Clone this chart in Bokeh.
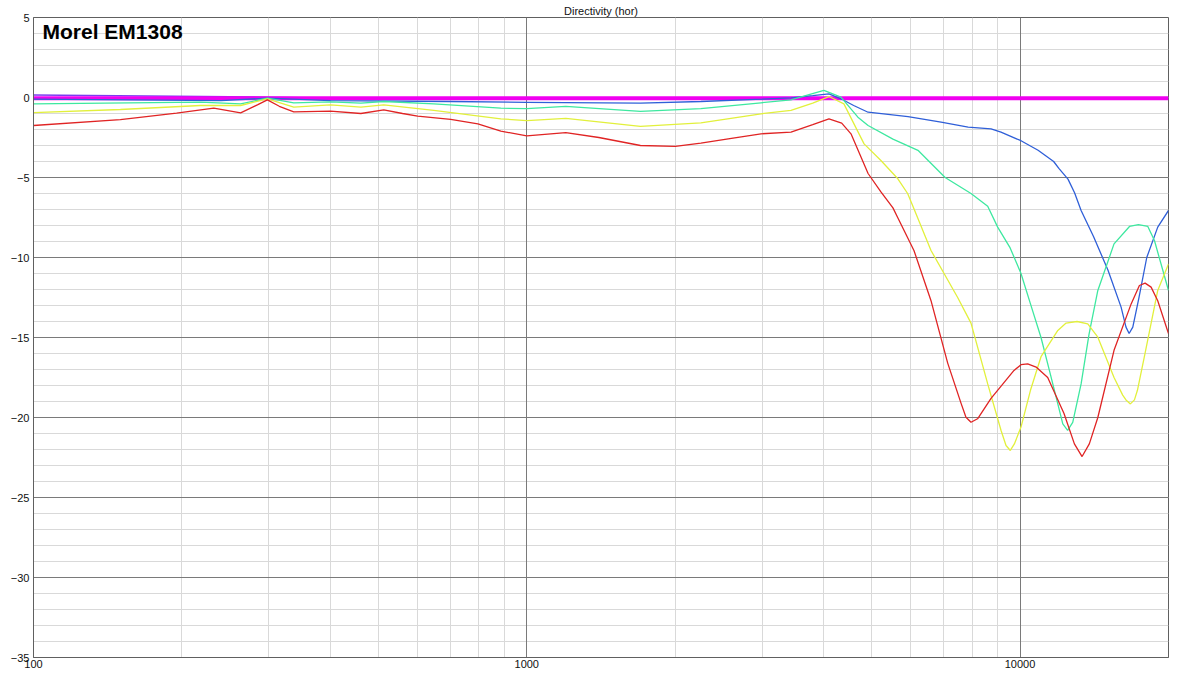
from bokeh.plotting import figure
from bokeh.models import FixedTicker, Label, BasicTickFormatter, Grid
from bokeh.embed import file_html
from bokeh.resources import INLINE

# ---------------- data ----------------
ref_f = [100, 20000]
ref_db = [-0.05, -0.05]

violet_f = [100, 250, 400, 1000, 4000, 20000]
violet_db = [0.15, 0.05, -0.05, -0.05, -0.05, -0.05]

blue_f = [100, 240, 298, 400, 700, 1000, 1700, 2254, 3000, 3433, 3800, 4099, 4335, 4600, 4920,
          5400, 5928, 6917, 7850, 8735, 9150, 10046, 10880, 11700, 12000, 12510, 12900, 13300, 14100,
          15080, 16030, 16400, 16640, 16930, 17400, 18070, 19020, 20000]
blue_db = [-0.1, -0.2, -0.04, -0.2, -0.25, -0.3, -0.35, -0.25, -0.1, -0.02, 0.12, 0.23, -0.08, -0.5, -0.92,
           -1.05, -1.19, -1.54, -1.85, -1.96, -2.17, -2.7, -3.3, -4.0, -4.45, -5.1, -5.95, -7.06, -8.7,
           -10.8, -13.1, -14.35, -14.75, -14.35, -12.6, -10.0, -8.1, -7.06]

green_f = [100, 218, 263, 298, 337, 400, 461, 513, 648, 886, 1000, 1200, 1700, 2254, 2984, 3433,
           3750, 4003, 4335, 4692, 4920, 5526, 6210, 7050, 7955, 8600, 9010, 9550, 10046, 10500,
           11030, 11500, 11930, 12210, 12490, 12790, 13300, 13800, 14380, 15510, 16670, 17380,
           18160, 18730, 20000]
green_db = [-0.4, -0.29, -0.4, -0.04, -0.33, -0.27, -0.35, -0.25, -0.4, -0.67, -0.7, -0.56, -0.87, -0.7, -0.33, -0.15,
            0.2, 0.44, 0.02, -1.23, -1.75, -2.6, -3.3, -5.0, -6.0, -6.8, -8.1, -9.4, -11.0, -12.9,
            -15.0, -17.2, -19.15, -20.4, -20.8, -20.3, -17.9, -14.8, -12.06, -9.15, -8.06, -7.94,
            -8.06, -8.94, -12.06]

yellow_f = [100, 150, 218, 263, 298, 337, 400, 461, 513, 648, 886, 1000, 1200, 1700, 2254, 2984,
            3433, 3800, 4099, 4395, 4829, 5224, 5654, 5918, 6095, 6600, 7475, 7955, 8600, 9150,
            9368, 9557, 9740, 10046, 10500, 11030, 11930, 12400, 13050, 13720, 14380, 15510,
            16150, 16400, 16740, 17060, 17300, 17870, 19020, 20000]
yellow_db = [-0.95, -0.75, -0.5, -0.5, -0.08, -0.6, -0.46, -0.6, -0.46, -0.81, -1.33, -1.45, -1.3, -1.8, -1.58, -1.02,
             -0.81, -0.35, 0.06, -0.4, -2.9, -3.94, -5.08, -6.0, -6.96, -9.56, -12.5, -14.1, -17.9, -20.8,
             -21.75, -22.06, -21.65, -20.6, -18.3, -16.2, -14.56, -14.1, -14.0, -14.15, -14.98, -17.5,
             -18.6, -18.9, -19.15, -18.9, -18.3, -16.2, -12.06, -10.4]

red_f = [100, 150, 195, 232, 263, 285, 298, 315, 337, 400, 461, 513, 560, 601, 701, 796, 886,
         1000, 1200, 1400, 1700, 2000, 2254, 2600, 2984, 3433, 3800, 4099, 4350, 4543, 4920,
         5224, 5526, 5649, 6095, 6600, 7135, 7592, 7770, 7955, 8203, 8735, 9723, 10046, 10365,
         10780, 11380, 12280, 12890, 13360, 13820, 14380, 15510, 16800, 17460, 17930, 18440,
         19020, 20000]
red_db = [-1.75, -1.38, -0.98, -0.67, -0.96, -0.45, -0.15, -0.55, -0.9, -0.85, -1.0, -0.77, -1.0, -1.17, -1.37, -1.65, -2.1,
          -2.4, -2.2, -2.5, -3.0, -3.05, -2.85, -2.55, -2.27, -2.17, -1.7, -1.33, -1.6, -2.27, -4.75,
          -5.9, -6.9, -7.5, -9.56, -12.7, -16.6, -19.1, -19.98, -20.3, -20.08, -18.8, -17.06, -16.7, -16.65,
          -16.85, -17.5, -19.75, -21.65, -22.44, -21.65, -20.0, -15.8, -12.9, -11.75, -11.6, -11.85,
          -12.7, -14.75]

x_major = [100, 1000, 10000]
x_minor = [m * 10 ** e for e in (2, 3, 4) for m in range(2, 10) if m * 10 ** e <= 20000]
y_major = list(range(-35, 6, 5))
y_minor = list(range(-35, 6))

# ---------------- figure ----------------
p = figure(frame_width=1135, frame_height=640, x_axis_type="log", x_range=(100, 20000), y_range=(-35, 5),
           output_backend="svg", toolbar_location=None,
           min_border_left=33, min_border_right=16, min_border_top=17, min_border_bottom=14,
           background_fill_color="white", border_fill_color="white")
p.outline_line_color = "#606060"
p.outline_line_width = 1

p.title.text = "Directivity (hor)"
p.title.align = "center"
p.title.text_font = "Liberation Sans"
p.title.text_font_size = "11px"
p.title.text_font_style = "normal"
p.title.text_color = "#111111"
p.title.standoff = 1
p.title.offset = 0

p.xaxis.ticker = FixedTicker(ticks=x_major)
p.xaxis.formatter = BasicTickFormatter(use_scientific=False)
p.yaxis.ticker = FixedTicker(ticks=y_major)
for ax in (p.xaxis, p.yaxis):
    ax.axis_line_color = "#606060"
    ax.major_tick_line_color = None
    ax.minor_tick_line_color = None
    ax.major_tick_out = 0
    ax.major_tick_in = 0
    ax.minor_tick_out = 0
    ax.minor_tick_in = 0
    ax.major_label_text_font = "Liberation Sans"
    ax.major_label_text_font_size = "11px"
    ax.major_label_text_color = "#111111"
p.xaxis.major_label_standoff = 2
p.yaxis.major_label_standoff = 4

# minor grids first (light), then major grids (dark) on top
p.xgrid.ticker = FixedTicker(ticks=x_major, minor_ticks=x_minor)
p.ygrid.ticker = FixedTicker(ticks=y_major, minor_ticks=y_minor)
for g in (p.xgrid, p.ygrid):
    g.grid_line_color = None
    g.minor_grid_line_color = "#d9d9d9"
    g.minor_grid_line_width = 1
p.add_layout(Grid(dimension=0, ticker=FixedTicker(ticks=x_major), grid_line_color="#7a7a7a",
                  grid_line_width=1, level="underlay"), "center")
p.add_layout(Grid(dimension=1, ticker=FixedTicker(ticks=y_major), grid_line_color="#7a7a7a",
                  grid_line_width=1, level="underlay"), "center")

lw = 1.3
p.line(violet_f, violet_db, line_color="#7a3cf0", line_width=1.5)
p.line(ref_f, ref_db, line_color="#f000f0", line_width=4)
p.line(blue_f, blue_db, line_color="#2f5fd8", line_width=lw)
p.line(green_f, green_db, line_color="#3ee8a0", line_width=lw)
p.line(yellow_f, yellow_db, line_color="#e2f03c", line_width=lw)
p.line(red_f, red_db, line_color="#e02424", line_width=lw)

p.add_layout(Label(x=100, y=5, x_offset=9, y_offset=-2, text="Morel EM1308", text_align="left",
                   text_baseline="top", text_font="Liberation Sans", text_font_size="21px",
                   text_font_style="bold", text_color="#000000"))

open("out.html", "w").write(file_html(p, INLINE))
